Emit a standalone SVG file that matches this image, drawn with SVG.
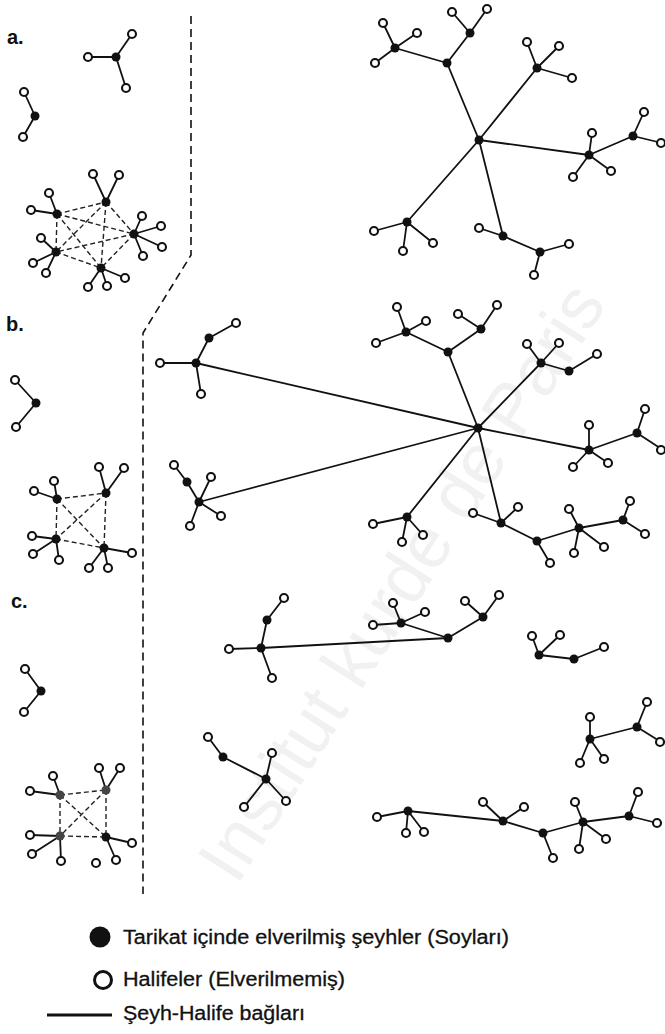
<svg xmlns="http://www.w3.org/2000/svg" width="665" height="1034" viewBox="0 0 665 1034">
<style>
.e{stroke:#111;stroke-width:1.8;fill:none;stroke-linecap:round}
.d{stroke:#222;stroke-width:1.4;stroke-dasharray:5 3;fill:none}
.sep{stroke:#111;stroke-width:1.6;stroke-dasharray:8 5;fill:none}
.f{fill:#111}
.g{fill:#454545}
.o{fill:#fff;stroke:#111;stroke-width:2.1}
.lab{font-family:"Liberation Sans",Arial,sans-serif;font-weight:bold;font-size:20px;fill:#111}
.leg{font-family:"Liberation Sans",Arial,sans-serif;font-size:20px;fill:#111;stroke:#111;stroke-width:0.3}
.wm{font-family:"Liberation Sans",Arial,sans-serif;font-size:72px;fill:#f1f1f1}
</style>
<rect width="665" height="1034" fill="#fff"/>
<text class="wm" x="422" y="595" text-anchor="middle" textLength="690" lengthAdjust="spacingAndGlyphs" transform="rotate(-57.5 422 595)">Institut kurde de Paris</text>

<g id="separator"><path class="sep" d="M191,16 V255 L143,333 V894"/></g>

<g id="labels">
<text class="lab" x="7" y="44">a.</text>
<text class="lab" x="6" y="331">b.</text>
<text class="lab" x="11" y="608">c.</text>
</g>

<g id="connectors">
<line class="e" x1="116" y1="57" x2="88" y2="57"/><line class="e" x1="116" y1="57" x2="132" y2="34"/><line class="e" x1="116" y1="57" x2="126" y2="88"/>
<line class="e" x1="35" y1="116" x2="24" y2="92"/><line class="e" x1="35" y1="116" x2="23" y2="137"/>
<line class="e" x1="57" y1="214" x2="49" y2="193"/><line class="e" x1="57" y1="214" x2="31" y2="210"/>
<line class="e" x1="106" y1="202" x2="93" y2="174"/><line class="e" x1="106" y1="202" x2="119" y2="175"/>
<line class="e" x1="134" y1="234" x2="142" y2="216"/><line class="e" x1="134" y1="234" x2="161" y2="226"/><line class="e" x1="134" y1="234" x2="162" y2="247"/><line class="e" x1="134" y1="234" x2="143" y2="256"/>
<line class="e" x1="56" y1="252" x2="41" y2="238"/><line class="e" x1="56" y1="252" x2="33" y2="263"/><line class="e" x1="56" y1="252" x2="46" y2="273"/>
<line class="e" x1="101" y1="268" x2="88" y2="287"/><line class="e" x1="101" y1="268" x2="107" y2="286"/><line class="e" x1="101" y1="268" x2="125" y2="278"/>
<line class="d" x1="57" y1="214" x2="106" y2="202"/><line class="d" x1="57" y1="214" x2="134" y2="234"/><line class="d" x1="57" y1="214" x2="56" y2="252"/><line class="d" x1="57" y1="214" x2="101" y2="268"/>
<line class="d" x1="106" y1="202" x2="134" y2="234"/><line class="d" x1="106" y1="202" x2="56" y2="252"/><line class="d" x1="106" y1="202" x2="101" y2="268"/>
<line class="d" x1="134" y1="234" x2="56" y2="252"/><line class="d" x1="134" y1="234" x2="101" y2="268"/><line class="d" x1="56" y1="252" x2="101" y2="268"/>
<line class="e" x1="479" y1="140" x2="447" y2="63"/><line class="e" x1="447" y1="63" x2="395" y2="48"/>
<line class="e" x1="395" y1="48" x2="383" y2="23"/><line class="e" x1="395" y1="48" x2="417" y2="33"/><line class="e" x1="395" y1="48" x2="375" y2="63"/>
<line class="e" x1="447" y1="63" x2="470" y2="33"/><line class="e" x1="470" y1="33" x2="452" y2="12"/><line class="e" x1="470" y1="33" x2="487" y2="9"/>
<line class="e" x1="479" y1="140" x2="537" y2="68"/><line class="e" x1="537" y1="68" x2="527" y2="42"/><line class="e" x1="537" y1="68" x2="559" y2="46"/><line class="e" x1="537" y1="68" x2="572" y2="78"/>
<line class="e" x1="479" y1="140" x2="589" y2="155"/><line class="e" x1="589" y1="155" x2="592" y2="133"/><line class="e" x1="589" y1="155" x2="573" y2="177"/><line class="e" x1="589" y1="155" x2="611" y2="171"/>
<line class="e" x1="589" y1="155" x2="633" y2="136"/><line class="e" x1="633" y1="136" x2="644" y2="112"/><line class="e" x1="633" y1="136" x2="662" y2="143"/>
<line class="e" x1="479" y1="140" x2="407" y2="222"/><line class="e" x1="407" y1="222" x2="374" y2="231"/><line class="e" x1="407" y1="222" x2="403" y2="251"/><line class="e" x1="407" y1="222" x2="433" y2="243"/>
<line class="e" x1="479" y1="140" x2="503" y2="236"/><line class="e" x1="503" y1="236" x2="479" y2="228"/><line class="e" x1="503" y1="236" x2="540" y2="252"/>
<line class="e" x1="540" y1="252" x2="569" y2="244"/><line class="e" x1="540" y1="252" x2="534" y2="275"/>
<line class="e" x1="36" y1="403" x2="15" y2="380"/><line class="e" x1="36" y1="403" x2="16" y2="427"/>
<line class="e" x1="57" y1="499" x2="54" y2="481"/><line class="e" x1="57" y1="499" x2="34" y2="491"/>
<line class="e" x1="106" y1="493" x2="99" y2="467"/><line class="e" x1="106" y1="493" x2="124" y2="468"/>
<line class="e" x1="56" y1="539" x2="32" y2="536"/><line class="e" x1="56" y1="539" x2="33" y2="554"/><line class="e" x1="56" y1="539" x2="59" y2="560"/>
<line class="e" x1="104" y1="548" x2="89" y2="568"/><line class="e" x1="104" y1="548" x2="108" y2="568"/><line class="e" x1="104" y1="548" x2="132" y2="553"/>
<line class="d" x1="57" y1="499" x2="106" y2="493"/><line class="d" x1="57" y1="499" x2="56" y2="539"/><line class="d" x1="57" y1="499" x2="104" y2="548"/>
<line class="d" x1="106" y1="493" x2="56" y2="539"/><line class="d" x1="106" y1="493" x2="104" y2="548"/><line class="d" x1="56" y1="539" x2="104" y2="548"/>
<line class="e" x1="478" y1="428" x2="196" y2="363"/><line class="e" x1="196" y1="363" x2="160" y2="363"/><line class="e" x1="196" y1="363" x2="201" y2="394"/><line class="e" x1="196" y1="363" x2="209" y2="338"/><line class="e" x1="209" y1="338" x2="236" y2="323"/>
<line class="e" x1="478" y1="428" x2="199" y2="502"/><line class="e" x1="199" y1="502" x2="211" y2="477"/><line class="e" x1="199" y1="502" x2="221" y2="516"/><line class="e" x1="199" y1="502" x2="190" y2="526"/><line class="e" x1="199" y1="502" x2="187" y2="482"/><line class="e" x1="187" y1="482" x2="174" y2="465"/>
<line class="e" x1="478" y1="428" x2="448" y2="352"/><line class="e" x1="448" y1="352" x2="406" y2="332"/><line class="e" x1="406" y1="332" x2="397" y2="307"/><line class="e" x1="406" y1="332" x2="426" y2="321"/><line class="e" x1="406" y1="332" x2="376" y2="343"/>
<line class="e" x1="448" y1="352" x2="481" y2="329"/><line class="e" x1="481" y1="329" x2="458" y2="314"/><line class="e" x1="481" y1="329" x2="497" y2="305"/>
<line class="e" x1="478" y1="428" x2="541" y2="363"/><line class="e" x1="541" y1="363" x2="527" y2="344"/><line class="e" x1="541" y1="363" x2="559" y2="343"/><line class="e" x1="541" y1="363" x2="569" y2="371"/><line class="e" x1="569" y1="371" x2="597" y2="354"/>
<line class="e" x1="478" y1="428" x2="589" y2="450"/><line class="e" x1="589" y1="450" x2="589" y2="425"/><line class="e" x1="589" y1="450" x2="573" y2="467"/><line class="e" x1="589" y1="450" x2="608" y2="463"/><line class="e" x1="589" y1="450" x2="637" y2="433"/><line class="e" x1="637" y1="433" x2="645" y2="409"/><line class="e" x1="637" y1="433" x2="663" y2="450"/>
<line class="e" x1="478" y1="428" x2="407" y2="517"/><line class="e" x1="407" y1="517" x2="373" y2="524"/><line class="e" x1="407" y1="517" x2="423" y2="535"/><line class="e" x1="407" y1="517" x2="402" y2="542"/>
<line class="e" x1="478" y1="428" x2="501" y2="523"/><line class="e" x1="501" y1="523" x2="473" y2="513"/><line class="e" x1="501" y1="523" x2="518" y2="507"/><line class="e" x1="501" y1="523" x2="537" y2="541"/><line class="e" x1="537" y1="541" x2="550" y2="563"/>
<line class="e" x1="537" y1="541" x2="579" y2="528"/><line class="e" x1="579" y1="528" x2="569" y2="509"/><line class="e" x1="579" y1="528" x2="604" y2="547"/><line class="e" x1="579" y1="528" x2="574" y2="553"/>
<line class="e" x1="579" y1="528" x2="623" y2="520"/><line class="e" x1="623" y1="520" x2="630" y2="501"/><line class="e" x1="623" y1="520" x2="645" y2="534"/>
<line class="e" x1="41" y1="691" x2="25" y2="669"/><line class="e" x1="41" y1="691" x2="24" y2="712"/>
<line class="e" x1="60" y1="795" x2="53" y2="776"/><line class="e" x1="60" y1="795" x2="30" y2="791"/>
<line class="e" x1="106" y1="790" x2="99" y2="768"/><line class="e" x1="106" y1="790" x2="120" y2="768"/>
<line class="e" x1="60" y1="836" x2="30" y2="835"/><line class="e" x1="60" y1="836" x2="32" y2="854"/><line class="e" x1="60" y1="836" x2="61" y2="861"/>
<line class="e" x1="106" y1="837" x2="132" y2="843"/><line class="e" x1="106" y1="837" x2="116" y2="860"/>
<line class="d" x1="60" y1="795" x2="106" y2="790"/><line class="d" x1="60" y1="795" x2="60" y2="836"/><line class="d" x1="60" y1="795" x2="106" y2="837"/>
<line class="d" x1="106" y1="790" x2="60" y2="836"/><line class="d" x1="106" y1="790" x2="106" y2="837"/><line class="d" x1="60" y1="836" x2="106" y2="837"/>
<line class="e" x1="261" y1="648" x2="229" y2="649"/><line class="e" x1="261" y1="648" x2="272" y2="678"/><line class="e" x1="261" y1="648" x2="267" y2="620"/><line class="e" x1="267" y1="620" x2="284" y2="598"/>
<line class="e" x1="261" y1="648" x2="448" y2="638"/><line class="e" x1="448" y1="638" x2="401" y2="623"/><line class="e" x1="401" y1="623" x2="373" y2="625"/><line class="e" x1="401" y1="623" x2="393" y2="603"/><line class="e" x1="401" y1="623" x2="425" y2="612"/>
<line class="e" x1="448" y1="638" x2="483" y2="617"/><line class="e" x1="483" y1="617" x2="465" y2="601"/><line class="e" x1="483" y1="617" x2="499" y2="595"/>
<line class="e" x1="539" y1="655" x2="532" y2="636"/><line class="e" x1="539" y1="655" x2="560" y2="635"/><line class="e" x1="539" y1="655" x2="574" y2="659"/><line class="e" x1="574" y1="659" x2="604" y2="647"/>
<line class="e" x1="590" y1="739" x2="590" y2="717"/><line class="e" x1="590" y1="739" x2="580" y2="763"/><line class="e" x1="590" y1="739" x2="604" y2="759"/><line class="e" x1="590" y1="739" x2="637" y2="727"/><line class="e" x1="637" y1="727" x2="647" y2="702"/><line class="e" x1="637" y1="727" x2="661" y2="742"/>
<line class="e" x1="266" y1="779" x2="272" y2="753"/><line class="e" x1="266" y1="779" x2="244" y2="807"/><line class="e" x1="266" y1="779" x2="286" y2="801"/><line class="e" x1="266" y1="779" x2="223" y2="757"/><line class="e" x1="223" y1="757" x2="208" y2="737"/>
<line class="e" x1="408" y1="811" x2="377" y2="817"/><line class="e" x1="408" y1="811" x2="406" y2="833"/><line class="e" x1="408" y1="811" x2="424" y2="832"/><line class="e" x1="408" y1="811" x2="503" y2="821"/>
<line class="e" x1="503" y1="821" x2="483" y2="802"/><line class="e" x1="503" y1="821" x2="524" y2="807"/><line class="e" x1="503" y1="821" x2="543" y2="833"/><line class="e" x1="543" y1="833" x2="553" y2="858"/>
<line class="e" x1="543" y1="833" x2="583" y2="822"/><line class="e" x1="583" y1="822" x2="575" y2="802"/><line class="e" x1="583" y1="822" x2="606" y2="839"/><line class="e" x1="583" y1="822" x2="579" y2="849"/>
<line class="e" x1="583" y1="822" x2="629" y2="816"/><line class="e" x1="629" y1="816" x2="638" y2="792"/><line class="e" x1="629" y1="816" x2="657" y2="823"/>
</g>

<g id="nodes">
<g id="a-s1"><circle class="f" cx="116" cy="57" r="4.5"/></g>
<g id="a-s1-o1"><circle class="o" cx="88" cy="57" r="4"/></g>
<g id="a-s1-o2"><circle class="o" cx="132" cy="34" r="4"/></g>
<g id="a-s1-o3"><circle class="o" cx="126" cy="88" r="4"/></g>
<g id="a-s2"><circle class="f" cx="35" cy="116" r="4.5"/></g>
<g id="a-s2-o1"><circle class="o" cx="24" cy="92" r="4"/></g>
<g id="a-s2-o2"><circle class="o" cx="23" cy="137" r="4"/></g>
<g id="a-cA"><circle class="f" cx="57" cy="214" r="4.5"/></g>
<g id="a-cB"><circle class="f" cx="106" cy="202" r="4.5"/></g>
<g id="a-cC"><circle class="f" cx="134" cy="234" r="4.5"/></g>
<g id="a-cD"><circle class="f" cx="56" cy="252" r="4.5"/></g>
<g id="a-cE"><circle class="f" cx="101" cy="268" r="4.5"/></g>
<g id="a-cA-o1"><circle class="o" cx="49" cy="193" r="4"/></g>
<g id="a-cA-o2"><circle class="o" cx="31" cy="210" r="4"/></g>
<g id="a-cB-o1"><circle class="o" cx="93" cy="174" r="4"/></g>
<g id="a-cB-o2"><circle class="o" cx="119" cy="175" r="4"/></g>
<g id="a-cC-o1"><circle class="o" cx="142" cy="216" r="4"/></g>
<g id="a-cC-o2"><circle class="o" cx="161" cy="226" r="4"/></g>
<g id="a-cC-o3"><circle class="o" cx="162" cy="247" r="4"/></g>
<g id="a-cC-o4"><circle class="o" cx="143" cy="256" r="4"/></g>
<g id="a-cD-o1"><circle class="o" cx="41" cy="238" r="4"/></g>
<g id="a-cD-o2"><circle class="o" cx="33" cy="263" r="4"/></g>
<g id="a-cD-o3"><circle class="o" cx="46" cy="273" r="4"/></g>
<g id="a-cE-o1"><circle class="o" cx="88" cy="287" r="4"/></g>
<g id="a-cE-o2"><circle class="o" cx="107" cy="286" r="4"/></g>
<g id="a-cE-o3"><circle class="o" cx="125" cy="278" r="4"/></g>
<g id="a-T0"><circle class="f" cx="479" cy="140" r="4.5"/></g>
<g id="a-T1"><circle class="f" cx="447" cy="63" r="4.5"/></g>
<g id="a-T2"><circle class="f" cx="395" cy="48" r="4.5"/></g>
<g id="a-T2-o1"><circle class="o" cx="383" cy="23" r="4"/></g>
<g id="a-T2-o2"><circle class="o" cx="417" cy="33" r="4"/></g>
<g id="a-T2-o3"><circle class="o" cx="375" cy="63" r="4"/></g>
<g id="a-T3"><circle class="f" cx="470" cy="33" r="4.5"/></g>
<g id="a-T3-o1"><circle class="o" cx="452" cy="12" r="4"/></g>
<g id="a-T3-o2"><circle class="o" cx="487" cy="9" r="4"/></g>
<g id="a-T4"><circle class="f" cx="537" cy="68" r="4.5"/></g>
<g id="a-T4-o1"><circle class="o" cx="527" cy="42" r="4"/></g>
<g id="a-T4-o2"><circle class="o" cx="559" cy="46" r="4"/></g>
<g id="a-T4-o3"><circle class="o" cx="572" cy="78" r="4"/></g>
<g id="a-T5"><circle class="f" cx="589" cy="155" r="4.5"/></g>
<g id="a-T5-o1"><circle class="o" cx="592" cy="133" r="4"/></g>
<g id="a-T5-o2"><circle class="o" cx="573" cy="177" r="4"/></g>
<g id="a-T5-o3"><circle class="o" cx="611" cy="171" r="4"/></g>
<g id="a-T6"><circle class="f" cx="633" cy="136" r="4.5"/></g>
<g id="a-T6-o1"><circle class="o" cx="644" cy="112" r="4"/></g>
<g id="a-T6-o2"><circle class="o" cx="661" cy="143" r="4"/></g>
<g id="a-T7"><circle class="f" cx="407" cy="222" r="4.5"/></g>
<g id="a-T7-o1"><circle class="o" cx="374" cy="231" r="4"/></g>
<g id="a-T7-o2"><circle class="o" cx="403" cy="251" r="4"/></g>
<g id="a-T7-o3"><circle class="o" cx="433" cy="243" r="4"/></g>
<g id="a-T8"><circle class="f" cx="503" cy="236" r="4.5"/></g>
<g id="a-T8-o1"><circle class="o" cx="479" cy="228" r="4"/></g>
<g id="a-T9"><circle class="f" cx="540" cy="252" r="4.5"/></g>
<g id="a-T9-o1"><circle class="o" cx="569" cy="244" r="4"/></g>
<g id="a-T9-o2"><circle class="o" cx="534" cy="275" r="4"/></g>
<g id="b-s1"><circle class="f" cx="36" cy="403" r="4.5"/></g>
<g id="b-s1-o1"><circle class="o" cx="15" cy="380" r="4"/></g>
<g id="b-s1-o2"><circle class="o" cx="16" cy="427" r="4"/></g>
<g id="b-cA"><circle class="f" cx="57" cy="499" r="4.5"/></g>
<g id="b-cB"><circle class="f" cx="106" cy="493" r="4.5"/></g>
<g id="b-cC"><circle class="f" cx="56" cy="539" r="4.5"/></g>
<g id="b-cD"><circle class="f" cx="104" cy="548" r="4.5"/></g>
<g id="b-cA-o1"><circle class="o" cx="54" cy="481" r="4"/></g>
<g id="b-cA-o2"><circle class="o" cx="34" cy="491" r="4"/></g>
<g id="b-cB-o1"><circle class="o" cx="99" cy="467" r="4"/></g>
<g id="b-cB-o2"><circle class="o" cx="124" cy="468" r="4"/></g>
<g id="b-cC-o1"><circle class="o" cx="32" cy="536" r="4"/></g>
<g id="b-cC-o2"><circle class="o" cx="33" cy="554" r="4"/></g>
<g id="b-cC-o3"><circle class="o" cx="59" cy="560" r="4"/></g>
<g id="b-cD-o1"><circle class="o" cx="89" cy="568" r="4"/></g>
<g id="b-cD-o2"><circle class="o" cx="108" cy="568" r="4"/></g>
<g id="b-cD-o3"><circle class="o" cx="132" cy="553" r="4"/></g>
<g id="b-S0"><circle class="f" cx="478" cy="428" r="4.5"/></g>
<g id="b-S1"><circle class="f" cx="196" cy="363" r="4.5"/></g>
<g id="b-S1-o1"><circle class="o" cx="160" cy="363" r="4"/></g>
<g id="b-S1-o2"><circle class="o" cx="201" cy="394" r="4"/></g>
<g id="b-S2"><circle class="f" cx="209" cy="338" r="4.5"/></g>
<g id="b-S2-o1"><circle class="o" cx="236" cy="323" r="4"/></g>
<g id="b-S3"><circle class="f" cx="199" cy="502" r="4.5"/></g>
<g id="b-S3-o1"><circle class="o" cx="211" cy="477" r="4"/></g>
<g id="b-S3-o2"><circle class="o" cx="221" cy="516" r="4"/></g>
<g id="b-S3-o3"><circle class="o" cx="190" cy="526" r="4"/></g>
<g id="b-S4"><circle class="f" cx="187" cy="482" r="4.5"/></g>
<g id="b-S4-o1"><circle class="o" cx="174" cy="465" r="4"/></g>
<g id="b-S5"><circle class="f" cx="448" cy="352" r="4.5"/></g>
<g id="b-S6"><circle class="f" cx="406" cy="332" r="4.5"/></g>
<g id="b-S6-o1"><circle class="o" cx="397" cy="307" r="4"/></g>
<g id="b-S6-o2"><circle class="o" cx="426" cy="321" r="4"/></g>
<g id="b-S6-o3"><circle class="o" cx="376" cy="343" r="4"/></g>
<g id="b-S7"><circle class="f" cx="481" cy="329" r="4.5"/></g>
<g id="b-S7-o1"><circle class="o" cx="458" cy="314" r="4"/></g>
<g id="b-S7-o2"><circle class="o" cx="497" cy="305" r="4"/></g>
<g id="b-S8"><circle class="f" cx="541" cy="363" r="4.5"/></g>
<g id="b-S8-o1"><circle class="o" cx="527" cy="344" r="4"/></g>
<g id="b-S8-o2"><circle class="o" cx="559" cy="343" r="4"/></g>
<g id="b-S9"><circle class="f" cx="569" cy="371" r="4.5"/></g>
<g id="b-S9-o1"><circle class="o" cx="597" cy="354" r="4"/></g>
<g id="b-S10"><circle class="f" cx="589" cy="450" r="4.5"/></g>
<g id="b-S10-o1"><circle class="o" cx="589" cy="425" r="4"/></g>
<g id="b-S10-o2"><circle class="o" cx="573" cy="467" r="4"/></g>
<g id="b-S10-o3"><circle class="o" cx="608" cy="463" r="4"/></g>
<g id="b-S11"><circle class="f" cx="637" cy="433" r="4.5"/></g>
<g id="b-S11-o1"><circle class="o" cx="645" cy="409" r="4"/></g>
<g id="b-S11-o2"><circle class="o" cx="661" cy="450" r="4"/></g>
<g id="b-S12"><circle class="f" cx="407" cy="517" r="4.5"/></g>
<g id="b-S12-o1"><circle class="o" cx="373" cy="524" r="4"/></g>
<g id="b-S12-o2"><circle class="o" cx="423" cy="535" r="4"/></g>
<g id="b-S12-o3"><circle class="o" cx="402" cy="542" r="4"/></g>
<g id="b-S13"><circle class="f" cx="501" cy="523" r="4.5"/></g>
<g id="b-S13-o1"><circle class="o" cx="473" cy="513" r="4"/></g>
<g id="b-S13-o2"><circle class="o" cx="518" cy="507" r="4"/></g>
<g id="b-S14"><circle class="f" cx="537" cy="541" r="4.5"/></g>
<g id="b-S14-o1"><circle class="o" cx="550" cy="563" r="4"/></g>
<g id="b-S15"><circle class="f" cx="579" cy="528" r="4.5"/></g>
<g id="b-S15-o1"><circle class="o" cx="569" cy="509" r="4"/></g>
<g id="b-S15-o2"><circle class="o" cx="604" cy="547" r="4"/></g>
<g id="b-S15-o3"><circle class="o" cx="574" cy="553" r="4"/></g>
<g id="b-S16"><circle class="f" cx="623" cy="520" r="4.5"/></g>
<g id="b-S16-o1"><circle class="o" cx="630" cy="501" r="4"/></g>
<g id="b-S16-o2"><circle class="o" cx="645" cy="534" r="4"/></g>
<g id="c-s1"><circle class="f" cx="41" cy="691" r="4.5"/></g>
<g id="c-s1-o1"><circle class="o" cx="25" cy="669" r="4"/></g>
<g id="c-s1-o2"><circle class="o" cx="24" cy="712" r="4"/></g>
<g id="c-cA"><circle class="g" cx="60" cy="795" r="4.5"/></g>
<g id="c-cB"><circle class="g" cx="106" cy="790" r="4.5"/></g>
<g id="c-cC"><circle class="g" cx="60" cy="836" r="4.5"/></g>
<g id="c-cD"><circle class="f" cx="106" cy="837" r="4.5"/></g>
<g id="c-cA-o1"><circle class="o" cx="53" cy="776" r="4"/></g>
<g id="c-cA-o2"><circle class="o" cx="30" cy="791" r="4"/></g>
<g id="c-cB-o1"><circle class="o" cx="99" cy="768" r="4"/></g>
<g id="c-cB-o2"><circle class="o" cx="120" cy="768" r="4"/></g>
<g id="c-cC-o1"><circle class="o" cx="30" cy="835" r="4"/></g>
<g id="c-cC-o2"><circle class="o" cx="32" cy="854" r="4"/></g>
<g id="c-cC-o3"><circle class="o" cx="61" cy="861" r="4"/></g>
<g id="c-cD-o1"><circle class="o" cx="132" cy="843" r="4"/></g>
<g id="c-cD-o2"><circle class="o" cx="116" cy="860" r="4"/></g>
<g id="c-iso"><circle class="o" cx="96" cy="863" r="4"/></g>
<g id="c-R1"><circle class="f" cx="261" cy="648" r="4.5"/></g>
<g id="c-R1-o1"><circle class="o" cx="229" cy="649" r="4"/></g>
<g id="c-R1-o2"><circle class="o" cx="272" cy="678" r="4"/></g>
<g id="c-R2"><circle class="f" cx="267" cy="620" r="4.5"/></g>
<g id="c-R2-o1"><circle class="o" cx="284" cy="598" r="4"/></g>
<g id="c-R3"><circle class="f" cx="448" cy="638" r="4.5"/></g>
<g id="c-R4"><circle class="f" cx="401" cy="623" r="4.5"/></g>
<g id="c-R4-o1"><circle class="o" cx="373" cy="625" r="4"/></g>
<g id="c-R4-o2"><circle class="o" cx="393" cy="603" r="4"/></g>
<g id="c-R4-o3"><circle class="o" cx="425" cy="612" r="4"/></g>
<g id="c-R5"><circle class="f" cx="483" cy="617" r="4.5"/></g>
<g id="c-R5-o1"><circle class="o" cx="465" cy="601" r="4"/></g>
<g id="c-R5-o2"><circle class="o" cx="499" cy="595" r="4"/></g>
<g id="c-Q1"><circle class="f" cx="539" cy="655" r="4.5"/></g>
<g id="c-Q1-o1"><circle class="o" cx="532" cy="636" r="4"/></g>
<g id="c-Q1-o2"><circle class="o" cx="560" cy="635" r="4"/></g>
<g id="c-Q2"><circle class="f" cx="574" cy="659" r="4.5"/></g>
<g id="c-Q2-o1"><circle class="o" cx="604" cy="647" r="4"/></g>
<g id="c-P1"><circle class="f" cx="590" cy="739" r="4.5"/></g>
<g id="c-P1-o1"><circle class="o" cx="590" cy="717" r="4"/></g>
<g id="c-P1-o2"><circle class="o" cx="580" cy="763" r="4"/></g>
<g id="c-P1-o3"><circle class="o" cx="604" cy="759" r="4"/></g>
<g id="c-P2"><circle class="f" cx="637" cy="727" r="4.5"/></g>
<g id="c-P2-o1"><circle class="o" cx="647" cy="702" r="4"/></g>
<g id="c-P2-o2"><circle class="o" cx="660" cy="742" r="4"/></g>
<g id="c-W1"><circle class="f" cx="266" cy="779" r="4.5"/></g>
<g id="c-W1-o1"><circle class="o" cx="272" cy="753" r="4"/></g>
<g id="c-W1-o2"><circle class="o" cx="244" cy="807" r="4"/></g>
<g id="c-W1-o3"><circle class="o" cx="286" cy="801" r="4"/></g>
<g id="c-W2"><circle class="f" cx="223" cy="757" r="4.5"/></g>
<g id="c-W2-o1"><circle class="o" cx="208" cy="737" r="4"/></g>
<g id="c-V1"><circle class="f" cx="408" cy="811" r="4.5"/></g>
<g id="c-V1-o1"><circle class="o" cx="377" cy="817" r="4"/></g>
<g id="c-V1-o2"><circle class="o" cx="406" cy="833" r="4"/></g>
<g id="c-V1-o3"><circle class="o" cx="424" cy="832" r="4"/></g>
<g id="c-V2"><circle class="f" cx="503" cy="821" r="4.5"/></g>
<g id="c-V2-o1"><circle class="o" cx="483" cy="802" r="4"/></g>
<g id="c-V2-o2"><circle class="o" cx="524" cy="807" r="4"/></g>
<g id="c-V3"><circle class="f" cx="543" cy="833" r="4.5"/></g>
<g id="c-V3-o1"><circle class="o" cx="553" cy="858" r="4"/></g>
<g id="c-V4"><circle class="f" cx="583" cy="822" r="4.5"/></g>
<g id="c-V4-o1"><circle class="o" cx="575" cy="802" r="4"/></g>
<g id="c-V4-o2"><circle class="o" cx="606" cy="839" r="4"/></g>
<g id="c-V4-o3"><circle class="o" cx="579" cy="849" r="4"/></g>
<g id="c-V5"><circle class="f" cx="629" cy="816" r="4.5"/></g>
<g id="c-V5-o1"><circle class="o" cx="638" cy="792" r="4"/></g>
<g id="c-V5-o2"><circle class="o" cx="657" cy="823" r="4"/></g>
</g>

<g id="legend">
<g id="leg-filled"><circle cx="100" cy="937" r="10.5" fill="#111"/>
<text class="leg" x="123" y="944" textLength="386" lengthAdjust="spacingAndGlyphs">Tarikat içinde elverilmiş şeyhler (Soyları)</text></g>
<g id="leg-open"><circle cx="103" cy="980" r="8.5" fill="#fff" stroke="#111" stroke-width="3"/>
<text class="leg" x="123" y="986" textLength="222" lengthAdjust="spacingAndGlyphs">Halifeler (Elverilmemiş)</text></g>
<g id="leg-line"><line x1="47" y1="1015" x2="112" y2="1015" stroke="#111" stroke-width="3"/>
<text class="leg" x="123" y="1020" textLength="182" lengthAdjust="spacingAndGlyphs">Şeyh-Halife bağları</text></g>
</g>
</svg>
